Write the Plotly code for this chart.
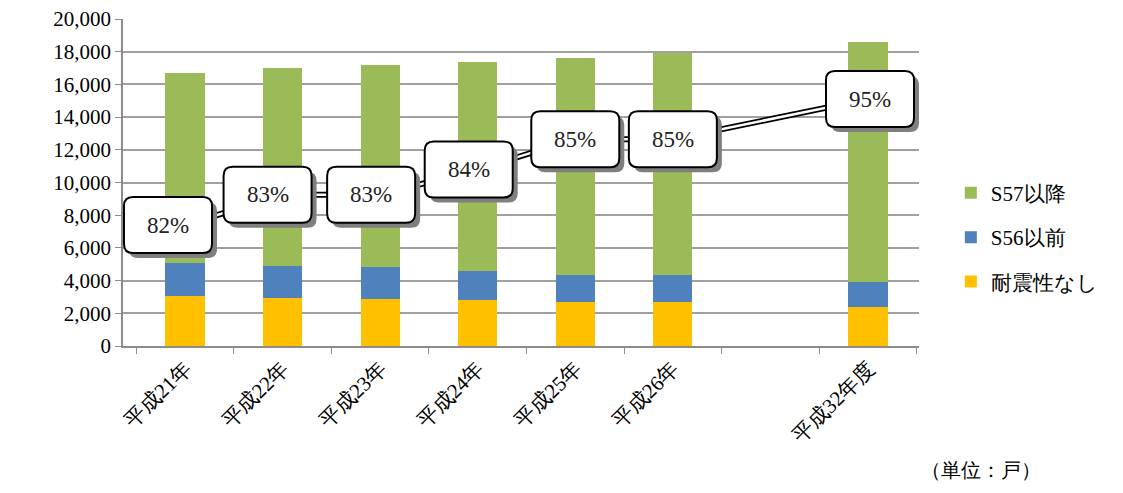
import plotly.graph_objects as go

categories = ["平成21年", "平成22年", "平成23年", "平成24年", "平成25年", "平成26年", " ", "平成32年度"]
no_quake = [3030, 2910, 2850, 2790, 2700, 2700, None, 2400]      # 耐震性なし
pre_s56 = [2020, 2000, 1960, 1790, 1660, 1660, None, 1500]       # S56以前
post_s57 = [11650, 12100, 12390, 12820, 13240, 13560, None, 14690]  # S57以降
rate_labels = ["82%", "83%", "83%", "84%", "85%", "85%", None, "95%"]
rate_line_pos = [7400, 9250, 9250, 10800, 12650, 12650, None, 15100]  # line height
y_ticks = list(range(0, 20001, 2000))

FONT = "Times New Roman, Liberation Serif, serif"
GREEN, BLUE, YELLOW = "#9BBB59", "#4F81BD", "#FFC000"

fig = go.Figure()
for name, vals, col, rank in [("耐震性なし", no_quake, YELLOW, 3), ("S56以前", pre_s56, BLUE, 2),
                              ("S57以降", post_s57, GREEN, 1)]:
    fig.add_trace(go.Bar(x=categories, y=vals, name=name, marker=dict(color=col, line=dict(width=0)),
                         width=0.4, legendgroup=name, legendrank=rank))

fig.add_trace(go.Scatter(x=categories, y=rate_line_pos, mode="lines", connectgaps=True,
                         line=dict(color="black", width=6), showlegend=False, hoverinfo="skip"))
fig.add_trace(go.Scatter(x=categories, y=rate_line_pos, mode="lines", connectgaps=True,
                         line=dict(color="white", width=2.5), showlegend=False, hoverinfo="skip"))

label_dx = [-17, -15, -9, -9, 0, 0, 0, 2]
W, H, R = 44, 28, 9

def rrect(cx, cy):
    x0, x1, y0, y1 = cx - W, cx + W, cy - H, cy + H
    return (f"M {x0+R},{y0} L {x1-R},{y0} Q {x1},{y0} {x1},{y0+R} L {x1},{y1-R} Q {x1},{y1} {x1-R},{y1} "
            f"L {x0+R},{y1} Q {x0},{y1} {x0},{y1-R} L {x0},{y0+R} Q {x0},{y0} {x0+R},{y0} Z")

shapes = []
annotations = []
for i, (lab, pos) in enumerate(zip(rate_labels, rate_line_pos)):
    if lab is None:
        continue
    dx = label_dx[i]
    shapes.append(dict(type="path", xref="x", yref="y", xsizemode="pixel", ysizemode="pixel",
                       xanchor=i, yanchor=pos, path=rrect(dx + 5, -5), fillcolor="#7F7F7F",
                       line=dict(width=0), layer="above"))
    shapes.append(dict(type="path", xref="x", yref="y", xsizemode="pixel", ysizemode="pixel",
                       xanchor=i, yanchor=pos, path=rrect(dx, 0), fillcolor="white",
                       line=dict(color="black", width=2), layer="above"))
    annotations.append(dict(x=i, y=pos, xref="x", yref="y", text=lab, showarrow=False, xshift=dx,
                            font=dict(family=FONT, size=23, color="#222")))

annotations.append(dict(x=1.0, y=-0.38, xref="paper", yref="paper", xanchor="left", yanchor="middle",
                        text="（単位：戸）", showarrow=False, font=dict(family=FONT, size=20, color="black")))

fig.update_layout(
    template="none",
    barmode="stack", width=1123, height=493,
    margin=dict(l=115, r=212, t=11, b=155, autoexpand=False),
    paper_bgcolor="white", plot_bgcolor="white",
    font=dict(family=FONT, size=20, color="black"),
    shapes=shapes, annotations=annotations, hovermode=False,
    legend=dict(x=1.04, y=0.53, xanchor="left", yanchor="top", traceorder="grouped",
                tracegroupgap=14, font=dict(family=FONT, size=21, color="black"), itemwidth=30,
                bgcolor="rgba(0,0,0,0)"),
    xaxis=dict(type="category", categoryorder="array", categoryarray=categories,
               tickangle=-45, tickson="boundaries", ticks="outside", ticklen=6, tickcolor="#8C8C8C",
               showline=True, linecolor="#8C8C8C", linewidth=1.5, showgrid=False, zeroline=False,
               tickfont=dict(family=FONT, size=21, color="black")),
    yaxis=dict(range=[0, 20000], tickvals=y_ticks, tickformat=",", ticks="outside", ticklen=6,
               tickcolor="#8C8C8C", showline=True, linecolor="#8C8C8C", linewidth=1.5,
               showgrid=True, gridcolor="#A0A0A0", gridwidth=1.5, zeroline=False,
               ticklabeloverflow="allow", tickfont=dict(family=FONT, size=21, color="black")),
)

fig.write_html("out.html")
